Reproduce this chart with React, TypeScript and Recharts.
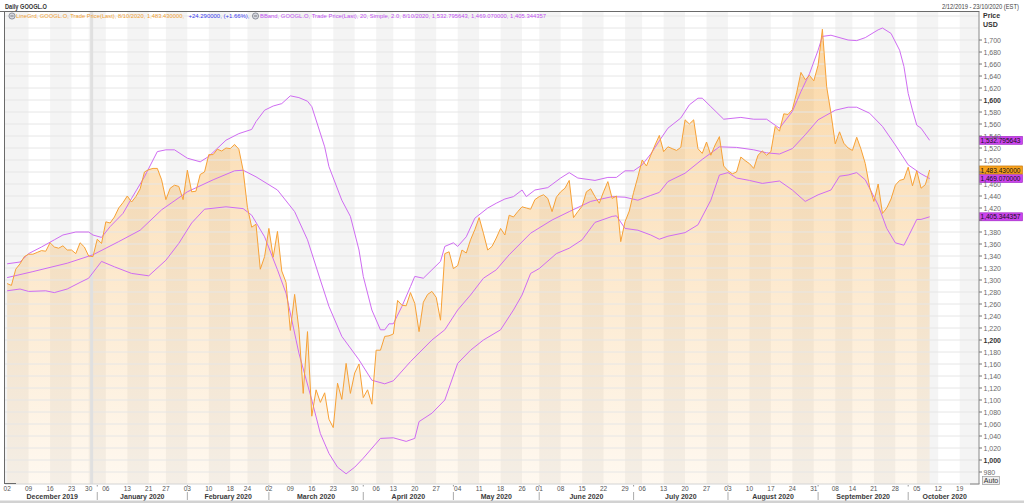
import React from 'react';
import {
  ComposedChart,
  Area,
  Line,
  XAxis,
  YAxis,
  ReferenceArea,
  ReferenceLine,
} from 'recharts';

const FONT = '"Liberation Sans", Arial, sans-serif';

// ---- calendar (categories) ----
const FIRST_SESSION = '2019-12-02';
const LAST_SESSION = '2020-10-23';
const marketHolidays = [
  '2019-12-25', '2020-01-01', '2020-01-20', '2020-02-17',
  '2020-04-10', '2020-05-25', '2020-07-03', '2020-09-07',
];
const monthLabels = [
  'December 2019', 'January 2020', 'February 2020', 'March 2020', 'April 2020', 'May 2020',
  'June 2020', 'July 2020', 'August 2020', 'September 2020', 'October 2020',
];
const priceTicks = [
  980, 1000, 1020, 1040, 1060, 1080, 1100, 1120, 1140, 1160, 1180, 1200, 1220, 1240, 1260,
  1280, 1300, 1320, 1340, 1360, 1380, 1400, 1420, 1440, 1460, 1480, 1500, 1520, 1540, 1560,
  1580, 1600, 1620, 1640, 1660, 1680, 1700,
];
const gridValues = [...priceTicks, 1720, 1740];
// tick labels hidden behind the value tags in the reference
const coveredTickLabels = [1400, 1480];

// ---- daily close (one per session, 2 Dec 2019 .. 8 Oct 2020) ----
const closes = [
  // Dec 2019
  1294, 1291, 1318, 1327, 1339, 1343, 1343, 1346, 1349, 1348, 1362, 1355, 1353, 1357, 1350,
  1350, 1344, 1362, 1355, 1340, 1339,
  // Jan 2020
  1368, 1361, 1397, 1395, 1405, 1420, 1429, 1440, 1430, 1439, 1452, 1480, 1484, 1486, 1486,
  1467, 1434, 1453, 1458, 1456, 1434,
  // Feb
  1483, 1447, 1448, 1476, 1480, 1509, 1509, 1518, 1515, 1520, 1519, 1526, 1518, 1483, 1421,
  1388, 1393, 1318, 1339,
  // Mar
  1386, 1338, 1381, 1315, 1296, 1216, 1276, 1218, 1111, 1214, 1073, 1117, 1096, 1112, 1068,
  1054, 1128, 1101, 1161, 1111, 1145, 1160,
  // Apr
  1104, 1117, 1093, 1183, 1183, 1206, 1207, 1210, 1266, 1258, 1257, 1279, 1261, 1214, 1263,
  1276, 1281, 1271, 1233, 1344, 1347,
  // May
  1319, 1324, 1350, 1345, 1367, 1384, 1404, 1378, 1350, 1356, 1370, 1386, 1375, 1408, 1405,
  1414, 1422, 1420, 1418, 1434,
  // Jun
  1439, 1442, 1436, 1414, 1438, 1447, 1453, 1466, 1404, 1414, 1423, 1447, 1452, 1439, 1428,
  1447, 1464, 1436, 1440, 1364, 1397, 1415,
  // Jul
  1446, 1472, 1500, 1490, 1508, 1525, 1541, 1514, 1522, 1519, 1516, 1521, 1567, 1560, 1567,
  1519, 1511, 1530, 1508, 1525, 1539, 1490,
  // Aug
  1482, 1477, 1480, 1505, 1499, 1494, 1486, 1508, 1515, 1508, 1514, 1556, 1548, 1577, 1576,
  1584, 1612, 1646, 1634, 1641, 1632,
  // Sep
  1658, 1718, 1622, 1578, 1527, 1547, 1528, 1520, 1516, 1538, 1518, 1494, 1455, 1431, 1460,
  1411, 1420, 1435, 1458, 1466, 1468,
  // Oct
  1488, 1457, 1482, 1453, 1459, 1483.43,
];

// ---- Bollinger band readings: [session number, value] ----
const upperBand: [number, number][] = [
  [0, 1327], [3, 1330], [5, 1344], [8, 1355], [11, 1367], [13, 1375], [16, 1380], [19, 1380],
  [20, 1375], [22, 1371], [24, 1389], [27, 1411], [29, 1436], [32, 1472], [35, 1514], [37, 1517],
  [39, 1517], [42, 1503], [45, 1497], [47, 1506], [51, 1533], [54, 1544], [57, 1551], [58, 1564],
  [60, 1583], [62, 1590], [64, 1594], [66, 1607], [68, 1604], [70, 1598], [71, 1589], [74, 1522],
  [75, 1489], [78, 1433], [80, 1406], [82, 1350], [83, 1306], [85, 1250], [87, 1217], [88, 1217],
  [89, 1227], [90, 1227], [92, 1256], [94, 1289], [95, 1306], [97, 1303], [99, 1317], [101, 1331],
  [102, 1356], [104, 1362], [105, 1356], [107, 1372], [109, 1403], [112, 1420], [114, 1428],
  [116, 1435], [118, 1439], [120, 1450], [121, 1439], [123, 1450], [126, 1454], [129, 1470],
  [131, 1479], [133, 1470], [137, 1466], [140, 1471], [142, 1471], [144, 1482], [146, 1482],
  [148, 1492], [150, 1510], [152, 1532], [154, 1553], [157, 1570], [159, 1592], [161, 1603],
  [162, 1603], [164, 1589], [167, 1568], [171, 1571], [174, 1568], [177, 1568], [179, 1558],
  [180, 1553], [183, 1581], [185, 1614], [187, 1644], [189, 1683], [190, 1706], [192, 1708],
  [196, 1700], [198, 1699], [200, 1704], [203, 1717], [204, 1720], [206, 1711], [208, 1683],
  [209, 1656], [210, 1611], [211, 1583], [212, 1558], [213, 1553], [215, 1532.795643],
];
const middleBand: [number, number][] = [
  [0, 1304], [6, 1314], [14, 1328], [20, 1342], [26, 1364], [31, 1383], [36, 1417], [42, 1447],
  [48, 1467], [53, 1482], [55, 1483], [58, 1472], [63, 1450], [67, 1414], [70, 1367], [73, 1300],
  [75, 1256], [78, 1206], [82, 1167], [85, 1133], [88, 1127], [90, 1132], [94, 1164], [99, 1200],
  [102, 1217], [105, 1250], [108, 1275], [111, 1303], [114, 1317], [117, 1342], [122, 1378],
  [127, 1400], [131, 1414], [136, 1431], [141, 1439], [144, 1438], [147, 1433], [150, 1441],
  [152, 1446], [154, 1464], [158, 1478], [162, 1501], [166, 1522], [170, 1521], [174, 1517],
  [177, 1512], [180, 1510], [183, 1519], [186, 1542], [189, 1567], [193, 1583], [196, 1588],
  [198, 1588], [201, 1578], [204, 1556], [207, 1525], [210, 1492], [213, 1477], [215, 1469.07],
];
const lowerBand: [number, number][] = [
  [0, 1282], [3, 1285], [5, 1281], [9, 1282], [11, 1279], [14, 1285], [17, 1296], [19, 1303],
  [22, 1331], [25, 1322], [29, 1311], [33, 1307], [37, 1333], [40, 1361], [43, 1395], [46, 1418],
  [51, 1422], [55, 1419], [57, 1408], [60, 1372], [63, 1317], [65, 1278], [68, 1178], [71, 1100],
  [73, 1044], [75, 1011], [77, 988], [79, 977], [81, 988], [83, 1003], [87, 1036], [90, 1037],
  [93, 1031], [95, 1036], [96, 1064], [99, 1078], [102, 1100], [105, 1161], [108, 1183],
  [111, 1200], [115, 1217], [118, 1250], [120, 1275], [122, 1311], [124, 1319], [128, 1344],
  [131, 1353], [134, 1367], [137, 1396], [141, 1406], [142, 1407], [144, 1386], [147, 1383],
  [150, 1375], [152, 1368], [154, 1373], [158, 1379], [161, 1392], [164, 1433], [166, 1475],
  [168, 1479], [170, 1470], [173, 1466], [176, 1461], [180, 1465], [183, 1450], [186, 1431],
  [189, 1442], [192, 1450], [194, 1473], [196, 1475], [198, 1479], [200, 1467], [203, 1425],
  [205, 1386], [207, 1362], [209, 1358], [210, 1372], [212, 1401], [213, 1401], [215, 1405.344357],
];

const valueTags = [
  { value: 1532.795643, text: '1,532.795643', fill: '#cc44ee', border: '#9a22c0' },
  { value: 1405.344357, text: '1,405.344357', fill: '#cc44ee', border: '#9a22c0' },
  { value: 1469.07, text: '1,469.070000', fill: '#cc44ee', border: '#9a22c0' },
  { value: 1483.43, text: '1,483.430000', fill: '#f7a21e', border: '#c07000' },
];

// ---- derived tables ----
function buildSessions(): string[] {
  const out: string[] = [];
  const d = new Date(FIRST_SESSION + 'T12:00:00Z');
  const end = new Date(LAST_SESSION + 'T12:00:00Z');
  while (d.getTime() <= end.getTime()) {
    const wd = d.getUTCDay();
    const s = d.toISOString().slice(0, 10);
    if (wd !== 0 && wd !== 6 && marketHolidays.indexOf(s) < 0) out.push(s);
    d.setUTCDate(d.getUTCDate() + 1);
  }
  return out;
}
const sessions = buildSessions();
const LAST = sessions.length - 1;
const dayOfWeek = (s: string) => new Date(s + 'T12:00:00Z').getUTCDay();

const weekStarts: number[] = [];
sessions.forEach((s, i) => {
  if (i === 0 || dayOfWeek(s) < dayOfWeek(sessions[i - 1])) weekStarts.push(i);
});

const monthFirst: number[] = [];
const monthLast: number[] = [];
sessions.forEach((s, i) => {
  if (i === 0 || s.slice(0, 7) !== sessions[i - 1].slice(0, 7)) {
    if (i > 0) monthLast.push(i - 1);
    monthFirst.push(i);
  }
});
monthLast.push(LAST);
const monthCenters = monthFirst.map((f, k) => (f + monthLast[k]) / 2 + 0.5);
const monthSeparators = monthFirst.slice(1);
const monthTicks = [...monthCenters, ...monthSeparators].sort((a, b) => a - b);

const rows = sessions.map((date, i) => ({
  i,
  close: i < closes.length ? closes[i] : null,
}));
const bandRows = (arr: [number, number][]) => arr.map(([i, v]) => ({ i, v }));
const upperRows = bandRows(upperBand);
const middleRows = bandRows(middleBand);
const lowerRows = bandRows(lowerBand);

const stripes: [number, number][] = [];
weekStarts.forEach((w, k) => {
  if (k % 2 === 0) {
    const x1 = k === 0 ? -0.5 : w;
    const x2 = k + 1 < weekStarts.length ? weekStarts[k + 1] : LAST + 0.5;
    stripes.push([x1, x2]);
  }
});

const fmtPrice = (v: number) =>
  v >= 1000 ? `${Math.floor(v / 1000)},${String(v % 1000).padStart(3, '0')}` : String(v);

const PriceTick = (props: any) => {
  const { x, y, payload } = props;
  const v = payload.value as number;
  const bold = v % 200 === 0;
  const showText = coveredTickLabels.indexOf(v) < 0;
  return (
    <g>
      <line x1={x} x2={x + 3} y1={y} y2={y} stroke="#777" strokeWidth={1} />
      {showText && (
        <text x={x + 4.5} y={y + 2.5} fontSize={7} fontFamily={FONT} fontWeight={bold ? 700 : 400} fill={bold ? '#333' : '#6a6a6a'}>
          {fmtPrice(v)}
        </text>
      )}
    </g>
  );
};

const DayTick = (props: any) => {
  const { x, y, payload } = props;
  const s = sessions[payload.value];
  if (!s) return null;
  return (
    <text x={x} y={y + 7} textAnchor="middle" fontSize={6.5} fontFamily={FONT} fill="#555">
      {s.slice(8, 10)}
    </text>
  );
};

const MonthTick = (props: any) => {
  const { x, y, payload } = props;
  const v = payload.value as number;
  if (monthSeparators.indexOf(v) >= 0) {
    return (
      <g>
        <line x1={x} x2={x} y1={y - 7} y2={y - 5.5} stroke="#999" />
        <line x1={x} x2={x} y1={y} y2={y + 8} stroke="#aaa" />
      </g>
    );
  }
  const k = monthCenters.indexOf(v);
  return (
    <text x={x} y={y + 6.5} textAnchor="middle" fontSize={7} fontWeight={700} fontFamily={FONT} fill="#3a3a3a">
      {monthLabels[k]}
    </text>
  );
};

const tagLabel = (t: { text: string; fill: string; border: string }) => (props: any) => {
  const vb = props.viewBox || {};
  const x = (vb.x || 0) + (vb.width || 0);
  const y = vb.y || 0;
  return (
    <g>
      <rect x={x + 0.5} y={y - 4} width={43} height={8} fill={t.fill} stroke={t.border} strokeWidth={0.6} />
      <text x={x + 1.5} y={y + 2.6} fontSize={6.6} fontFamily={FONT} fill="#111" textLength={40} lengthAdjust="spacingAndGlyphs">
        {t.text}
      </text>
    </g>
  );
};

const BAND = '#cf6cf2';

export default function App() {
  return (
    <div style={{ position: 'fixed', left: 0, top: 0, width: 1024, height: 503, background: '#fff', overflow: 'hidden' }}>
      <ComposedChart width={1024} height={503} data={rows} margin={{ top: 12, right: 0, bottom: 0, left: 5 }}>
        <defs>
          <linearGradient id="closeFillGrad" x1="0" y1="0" x2="0" y2="1">
            <stop offset="0" stopColor="#f5a02a" stopOpacity={0.42} />
            <stop offset="1" stopColor="#f5a02a" stopOpacity={0.07} />
          </linearGradient>
        </defs>
        {stripes.map(([a, b], k) => (
          <ReferenceArea key={`s${k}`} x1={a} x2={b} fill="#000" fillOpacity={0.042} stroke="none" />
        ))}
        {gridValues.map((g) => (
          <ReferenceLine key={`g${g}`} y={g} stroke="#e6e6e6" strokeWidth={1} />
        ))}
        <ReferenceLine x={19.7} stroke="#e0e0e0" strokeWidth={3} />
        <XAxis dataKey="i" type="number" domain={[-0.5, LAST + 0.5]} ticks={weekStarts} interval={0} tick={<DayTick />}
          tickLine={false} tickSize={0} tickMargin={0} height={8} axisLine={{ stroke: '#d4d4d4' }} />
        <XAxis xAxisId="month" dataKey="i" type="number" domain={[-0.5, LAST + 0.5]} ticks={monthTicks} interval={0}
          tick={<MonthTick />} tickLine={false} tickSize={0} tickMargin={0} height={11} axisLine={false} />
        <YAxis orientation="right" type="number" domain={[960, 1746.7]} ticks={priceTicks} interval={0} tick={<PriceTick />}
          tickLine={false} tickSize={0} tickMargin={0} width={45} axisLine={{ stroke: '#8a8a8a' }} />
        <Area dataKey="close" type="linear" stroke="none" fill="url(#closeFillGrad)" fillOpacity={1} dot={false} activeDot={false} isAnimationActive={false} />
        <Line data={lowerRows} dataKey="v" name="lower" type="linear" stroke={BAND} strokeWidth={1} dot={false} activeDot={false} isAnimationActive={false} />
        <Line data={upperRows} dataKey="v" name="upper" type="linear" stroke={BAND} strokeWidth={1} dot={false} activeDot={false} isAnimationActive={false} />
        <Line data={middleRows} dataKey="v" name="middle" type="linear" stroke={BAND} strokeWidth={1} dot={false} activeDot={false} isAnimationActive={false} />
        <Line dataKey="close" type="linear" stroke="#f7a136" strokeWidth={1} dot={false} activeDot={false} isAnimationActive={false} />
        {valueTags.map((t, k) => (
          <ReferenceLine key={`t${k}`} y={t.value} stroke="none" label={tagLabel(t)} />
        ))}
      </ComposedChart>
      <svg width={1024} height={503} style={{ position: 'absolute', left: 0, top: 0, pointerEvents: 'none' }}>
        <line x1={0} x2={979.5} y1={11.5} y2={11.5} stroke="#6a6a6a" strokeWidth={1} />
        <line x1={4.5} x2={4.5} y1={11.5} y2={484} stroke="#6a6a6a" strokeWidth={1} />
        <line x1={4.5} x2={16} y1={483.5} y2={483.5} stroke="#6a6a6a" strokeWidth={1} />
        <line x1={970} x2={979.5} y1={484} y2={484} stroke="#8a8a8a" strokeWidth={1} />
        <text x={5} y={9} fontSize={6.5} fontWeight={700} fontFamily={FONT} fill="#333" textLength={42} lengthAdjust="spacingAndGlyphs">Daily GOOGL.O</text>
        <text x={942} y={9} fontSize={6.3} fontFamily={FONT} fill="#444" textLength={77} lengthAdjust="spacingAndGlyphs">2/12/2019 - 23/10/2020 (EST)</text>
        <text x={983} y={18} fontSize={7} fontWeight={700} fontFamily={FONT} fill="#333">Price</text>
        <text x={983} y={26.5} fontSize={7} fontWeight={700} fontFamily={FONT} fill="#333">USD</text>
        <circle cx={12} cy={16} r={3.1} fill="#d6d8e0" stroke="#6f7380" strokeWidth={0.7} />
        <line x1={10.4} x2={13.6} y1={16} y2={16} stroke="#555" strokeWidth={0.7} />
        <text x={16} y={18.2} fontSize={5.9} fontFamily={FONT} fill="#f0a030" textLength={168} lengthAdjust="spacingAndGlyphs">LineGrd, GOOGL.O, Trade Price(Last), 8/10/2020, 1,483.430000,</text>
        <text x={188.5} y={18.2} fontSize={5.9} fontFamily={FONT} fill="#3a3aee" textLength={61} lengthAdjust="spacingAndGlyphs">+24.290000, (+1.66%),</text>
        <circle cx={255.5} cy={16} r={3.1} fill="#d6d8e0" stroke="#6f7380" strokeWidth={0.7} />
        <line x1={253.9} x2={257.1} y1={16} y2={16} stroke="#555" strokeWidth={0.7} />
        <text x={260} y={18.2} fontSize={5.9} fontFamily={FONT} fill="#c050f0" textLength={286} lengthAdjust="spacingAndGlyphs">BBand, GOOGL.O, Trade Price(Last), 20, Simple, 2.0, 8/10/2020, 1,532.795643, 1,469.070000, 1,405.344357</text>
        <rect x={982.5} y={476.5} width={17} height={8} fill="#eeeeee" stroke="#999" strokeWidth={0.7} />
        <text x={983.8} y={483} fontSize={6.5} fontFamily={FONT} fill="#333" textLength={14.5} lengthAdjust="spacingAndGlyphs">Auto</text>
        <rect x={0} y={500.5} width={1024} height={2.5} fill="#d2d2d2" />
      </svg>
    </div>
  );
}
